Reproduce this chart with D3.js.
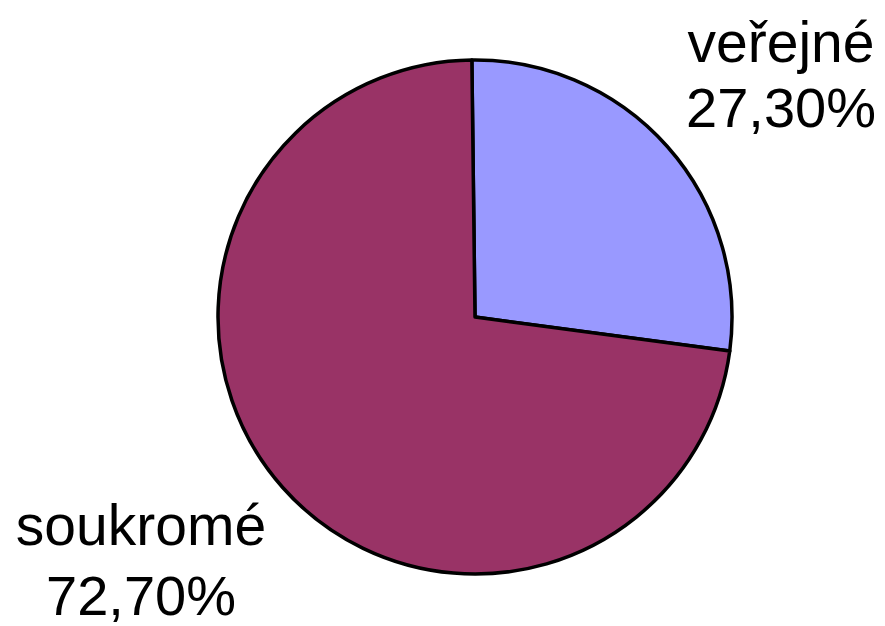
<!DOCTYPE html>
<html>
<head>
<meta charset="utf-8">
<script src="https://cdn.jsdelivr.net/npm/d3@7"></script>
<style>
  body { margin: 0; background: #fff; }
  text { font-family: "Liberation Sans", Arial, sans-serif; }
</style>
</head>
<body>
<div class="vis"></div>
<script>
const w = 885;
const h = 626;

const categories = ['veřejné', 'soukromé'];
const values = [27.3, 72.7];
const labels = ['27,30%', '72,70%'];
const colors = ['#9999ff', '#993366'];

const cx = 475;
const cy = 317;
const r = 257;

const svg = d3
	.select('.vis')
	.append('svg')
	.attr('width', w)
	.attr('height', h);

const pie = d3
	.pie()
	.sort(null)
	.startAngle(-0.7 * Math.PI / 180)
	.endAngle(2 * Math.PI - 0.7 * Math.PI / 180);

const arc = d3.arc().innerRadius(0).outerRadius(r);

const data = pie(values);

svg
	.append('g')
	.attr('transform', `translate(${cx}, ${cy})`)
	.selectAll('path')
	.data(data)
	.enter()
	.append('path')
	.attr('d', arc)
	.style('fill', (d, i) => colors[i])
	.style('stroke', '#000')
	.style('stroke-width', 3.5)
	.style('stroke-linejoin', 'round');

// label positions (name line, value line)
const labelPos = [
	{ x: 781, y1: 62, y2: 127 },
	{ x: 141, y1: 545, y2: 615 }
];

categories.forEach((c, i) => {
	const p = labelPos[i];
	const g = svg.append('g');
	g.append('text')
		.attr('text-anchor', 'middle')
		.attr('x', p.x)
		.attr('y', p.y1)
		.style('font-size', '57px')
		.style('fill', '#000')
		.text(c);
	g.append('text')
		.attr('text-anchor', 'middle')
		.attr('x', p.x)
		.attr('y', p.y2)
		.style('font-size', '56px')
		.style('fill', '#000')
		.text(labels[i]);
});
</script>
</body>
</html>
